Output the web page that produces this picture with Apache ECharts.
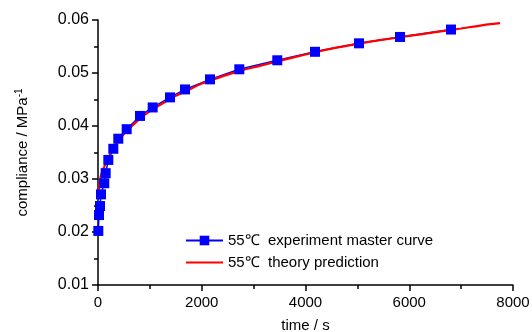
<!DOCTYPE html>
<html>
<head>
<meta charset="utf-8">
<script src="https://cdn.jsdelivr.net/npm/echarts@6/dist/echarts.min.js"></script>
<style>html,body{margin:0;padding:0;background:#fff;}#c{width:532px;height:332px;}</style>
</head>
<body>
<div id="c"></div>
<script>
// Experiment master curve (time in s, compliance in 1/MPa)
var expTime = [6, 19, 39, 58, 121, 148, 199, 295, 391, 553, 810, 1054, 1388, 1677, 2159, 2724, 3456, 4183, 5031, 5822, 6805];
var expComp = [0.0202, 0.0232, 0.0249, 0.0271, 0.0292, 0.0311, 0.0336, 0.0357, 0.0376, 0.0394, 0.0419, 0.0435, 0.0454, 0.0469, 0.0488, 0.0507, 0.0524, 0.0540, 0.0556, 0.0568, 0.0582];
// Theory prediction
var thTime = [5, 20, 40, 60, 100, 150, 200, 300, 400, 500, 600, 800, 1000, 1200, 1400, 1700, 2000, 2200, 2500, 2800, 3100, 3500, 4000, 4500, 5000, 5500, 6000, 6500, 7000, 7400, 7750];
var thComp = [0.0262, 0.0285, 0.0298, 0.0308, 0.0318, 0.0330, 0.0340, 0.0358, 0.0373, 0.0385, 0.0395, 0.0413, 0.0428, 0.0440, 0.0452, 0.0466, 0.0480, 0.0487, 0.0497, 0.0506, 0.0513, 0.0523, 0.0535, 0.0546, 0.0555, 0.0563, 0.0570, 0.0577, 0.0584, 0.0590, 0.0594];
var seriesNames = ['55\u2103  experiment master curve', '55\u2103  theory prediction'];
var xTicks = [0, 2000, 4000, 6000, 8000];
var yTicks = [0.01, 0.02, 0.03, 0.04, 0.05, 0.06];

var font = 'Liberation Sans, Arial, sans-serif';
var chart = echarts.init(document.getElementById('c'), null, {renderer: 'canvas'});
function zip(a, b) { return a.map(function (v, i) { return [v, b[i]]; }); }
chart.setOption({
  animation: false,
  backgroundColor: '#fff',
  grid: {left: 98, right: 19, top: 20, bottom: 47, outerBoundsMode: 'none', containLabel: false},
  legend: {
    orient: 'vertical', left: 180, top: 228, itemWidth: 37, itemHeight: 12, itemGap: 7,
    textStyle: {fontFamily: font, fontSize: 15, color: '#000'},
    data: [
      {name: seriesNames[0]},
      {name: seriesNames[1], itemStyle: {opacity: 0, borderWidth: 0}}
    ]
  },
  xAxis: {
    type: 'value', min: xTicks[0], max: xTicks[xTicks.length - 1], interval: 2000,
    name: 'time / s', nameLocation: 'middle', nameGap: 33,
    nameTextStyle: {fontFamily: font, fontSize: 15, color: '#000'},
    axisLine: {show: true, lineStyle: {color: '#000', width: 1.5}},
    axisTick: {show: true, length: 6, lineStyle: {color: '#000', width: 1.5}},
    minorTick: {show: true, splitNumber: 2, length: 4, lineStyle: {color: '#000', width: 1.5}},
    axisLabel: {fontFamily: font, fontSize: 15, color: '#000', margin: 10,
      formatter: function (v) { return String(v); }},
    splitLine: {show: false}
  },
  yAxis: {
    type: 'value', min: yTicks[0], max: yTicks[yTicks.length - 1], interval: 0.01,
    name: 'compliance / MPa{sup|-1}', nameLocation: 'middle', nameGap: 66,
    nameTextStyle: {fontFamily: font, fontSize: 15, color: '#000',
      rich: {sup: {fontFamily: font, fontSize: 10, color: '#000', verticalAlign: 'top', padding: [0, 0, 8, 0]}}},
    axisLine: {show: true, lineStyle: {color: '#000', width: 1.5}},
    axisTick: {show: true, length: 6, lineStyle: {color: '#000', width: 1.5}},
    minorTick: {show: true, splitNumber: 2, length: 4, lineStyle: {color: '#000', width: 1.5}},
    axisLabel: {fontFamily: font, fontSize: 16, color: '#000', margin: 9,
      formatter: function (v) { return v.toFixed(2); }},
    splitLine: {show: false}
  },
  series: [
    {
      name: seriesNames[0], type: 'line', data: zip(expTime, expComp),
      symbol: 'rect', symbolSize: 10, showSymbol: true,
      lineStyle: {color: '#0000ff', width: 1.5},
      itemStyle: {color: '#0000ff'}
    },
    {
      name: seriesNames[1], type: 'line', data: zip(thTime, thComp),
      symbol: 'circle', showSymbol: false, smooth: 0.2,
      lineStyle: {color: '#ff0000', width: 2.2},
      itemStyle: {color: '#ff0000'}
    }
  ]
});
</script>
</body>
</html>
